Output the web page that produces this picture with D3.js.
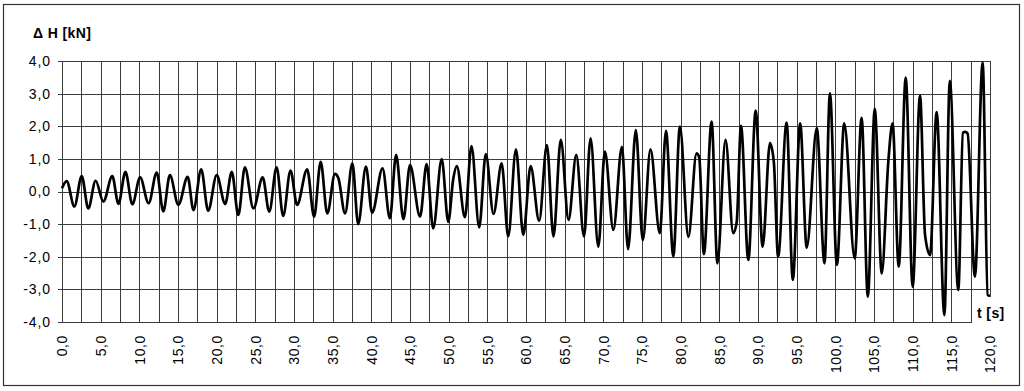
<!DOCTYPE html>
<html>
<head>
<meta charset="utf-8">
<script src="https://cdn.jsdelivr.net/npm/d3@7"></script>
<style>
  body { margin: 0; background: #fff; }
  svg { display: block; font-family: "Liberation Sans", Arial, sans-serif; }
</style>
</head>
<body>
<svg id="chart" width="1024" height="391"></svg>
<script>
'use strict';

// peaks / troughs of the force signal
var times = [
  0.0, 0.6, 1.6, 2.55, 3.4, 4.35, 5.35, 6.5, 7.3, 8.2, 9.1, 10.1, 11.2, 12.25, 13.1, 13.95,
  15.05, 16.25, 17.0, 18.0, 18.9, 20.0, 21.1, 21.95, 22.8, 23.65, 24.75, 25.95, 26.8, 27.75,
  28.6, 29.55, 30.4, 31.7, 32.6, 33.45, 34.3, 35.3, 35.75, 36.6, 37.55, 38.3, 39.3, 40.1,
  41.45, 42.4, 43.2, 44.15, 45.0, 46.3, 47.15, 48.0, 49.1, 49.95, 50.6, 51.05, 52.1, 52.95,
  53.95, 54.8, 55.8, 56.85, 57.7, 58.7, 59.65, 60.6, 61.7, 62.7, 63.55, 64.5, 65.5, 66.5,
  67.5, 68.35, 69.35, 70.2, 71.3, 72.4, 73.2, 74.2, 75.1, 76.1, 77.3, 78.1, 79.05, 79.9,
  81.0, 82.05, 82.4, 83.0, 84.0, 84.75, 85.8, 86.8, 87.25, 87.8, 88.75, 89.7, 90.6, 91.55,
  92.05, 92.6, 93.7, 94.5, 95.45, 96.3, 97.6, 98.6, 99.3, 100.2, 101.15, 102.5, 103.4, 104.2,
  105.1, 106.0, 106.85, 107.4, 108.2, 109.1, 110.0, 110.95, 111.6, 112.25, 113.1, 114.1,
  114.8, 115.9, 116.5, 116.8, 117.1, 118.05, 119.05, 119.7, 120.0
];
var forces = [
  0.10, 0.32, -0.46, 0.47, -0.52, 0.33, -0.31, 0.47, -0.38, 0.60, -0.39, 0.43, -0.36, 0.58, -0.61, 0.50,
  -0.41, 0.45, -0.57, 0.68, -0.59, 0.50, -0.38, 0.60, -0.72, 0.74, -0.52, 0.43, -0.62, 0.74,
  -0.75, 0.64, -0.41, 0.68, -0.77, 0.91, -0.67, 0.54, 0.40, -0.67, 0.86, -1.00, 0.76, -0.65,
  0.71, -0.82, 1.12, -0.85, 0.81, -0.77, 0.84, -1.13, 0.99, -0.93, 0.40, 0.78, -0.79, 1.39,
  -1.10, 1.15, -0.69, 0.86, -1.38, 1.29, -1.33, 0.78, -0.90, 1.42, -1.38, 1.58, -0.87, 1.12,
  -1.38, 1.63, -1.69, 1.22, -1.18, 1.37, -1.77, 1.88, -1.49, 1.29, -1.28, 1.86, -1.98, 1.99,
  -1.39, 1.17, 1.05, -1.92, 2.14, -2.20, 1.58, -1.28, -0.93, 2.01, -2.10, 2.48, -1.69, 1.48,
  0.90, -2.00, 2.11, -2.71, 2.09, -1.72, 1.94, -2.20, 3.01, -2.25, 2.09, -2.05, 2.26, -3.22,
  2.53, -2.51, 0.91, 2.09, -2.30, 3.49, -2.92, 2.94, -1.33, -1.95, 2.43, -3.79,
  3.39, -3.02, 1.80, 1.83, 1.78, -2.61, 3.96, -3.17, -3.20
];

var yTicks = [-4, -3, -2, -1, 0, 1, 2, 3, 4];
var xLabels = d3.range(0, 120.1, 5);
var xGrid = d3.range(0, 120.1, 2.5);

var fmt = function (v) { return v.toFixed(1).replace('.', ','); };

var svg = d3.select('#chart');
var plotL = 62, plotR = 990, plotT = 61, plotB = 322;

var x = d3.scaleLinear().domain([0, 120]).range([plotL, plotR]);
var y = d3.scaleLinear().domain([-4, 4]).range([plotB, plotT]);

// outer frame
svg.append('rect')
  .attr('x', 3.5).attr('y', 4.5)
  .attr('width', 1016).attr('height', 381)
  .attr('fill', '#fff').attr('stroke', '#333').attr('stroke-width', 1.2);

var grid = svg.append('g').attr('stroke', '#3c3c3c').attr('stroke-width', 1).attr('shape-rendering', 'crispEdges');
grid.selectAll('line.v')
  .data(xGrid)
  .enter().append('line')
  .attr('class', 'v')
  .attr('x1', function (d) { return Math.round(x(d)) + 0.5; })
  .attr('x2', function (d) { return Math.round(x(d)) + 0.5; })
  .attr('y1', plotT).attr('y2', plotB);
grid.selectAll('line.h')
  .data(yTicks)
  .enter().append('line')
  .attr('class', 'h')
  .attr('x1', plotL - 4).attr('x2', plotR)
  .attr('y1', function (d) { return Math.round(y(d)) + 0.5; })
  .attr('y2', function (d) { return Math.round(y(d)) + 0.5; });

// y labels
svg.append('g').selectAll('text')
  .data(yTicks)
  .enter().append('text')
  .attr('x', 51)
  .attr('y', function (d) { return y(d); })
  .attr('dy', '0.35em')
  .attr('text-anchor', 'end')
  .attr('font-size', 14)
  .attr('letter-spacing', 0.9)
  .text(fmt);

// x labels, rotated
svg.append('g').selectAll('text')
  .data(xLabels)
  .enter().append('text')
  .attr('transform', function (d) { return 'translate(' + (x(d) + 0.5) + ',335) rotate(-90)'; })
  .attr('dy', '0.35em')
  .attr('text-anchor', 'end')
  .attr('font-size', 14)
  .attr('letter-spacing', 0.6)
  .text(fmt);

// signal
var pts = times.map(function (t, i) { return [t, forces[i]]; });
var line = d3.line()
  .x(function (d) { return x(d[0]); })
  .y(function (d) { return y(d[1]); })
  .curve(d3.curveMonotoneX);
svg.append('path')
  .datum(pts)
  .attr('d', line)
  .attr('fill', 'none')
  .attr('stroke', '#000')
  .attr('stroke-width', 2.7)
  .attr('stroke-linejoin', 'round');

// axis titles
svg.append('text')
  .attr('x', 33).attr('y', 38)
  .attr('font-size', 14).attr('font-weight', 'bold')
  .attr('letter-spacing', 0.4)
  .text('\u0394 H [kN]');

svg.append('rect')
  .attr('x', 972).attr('y', 297)
  .attr('width', 38).attr('height', 27)
  .attr('fill', '#fff');
svg.append('text')
  .attr('x', 977).attr('y', 318)
  .attr('font-size', 14).attr('font-weight', 'bold')
  .attr('letter-spacing', 0.4)
  .text('t [s]');
</script>
</body>
</html>
